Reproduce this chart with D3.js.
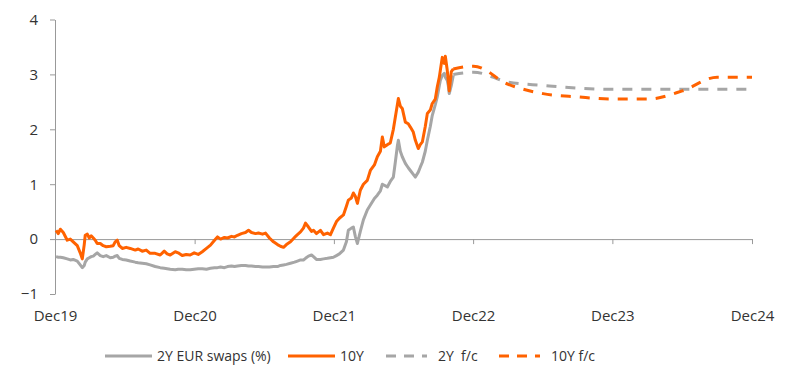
<!DOCTYPE html>
<html>
<head>
<meta charset="utf-8">
<script src="https://cdn.jsdelivr.net/npm/d3@7"></script>
<style>
  body { margin: 0; background: #fff; }
  svg text { font-family: "Open Sans", "DejaVu Sans", sans-serif; fill: #333; }
</style>
</head>
<body>
<svg id="chart" width="800" height="378"></svg>
<script>
// history, dates as decimal years
const histYears = [2019.922, 2019.938, 2019.953, 2019.974, 2020.003, 2020.025, 2020.046, 2020.075, 2020.096, 2020.111,
  2020.125, 2020.132, 2020.147, 2020.161, 2020.175, 2020.190, 2020.204, 2020.218, 2020.240, 2020.261,
  2020.283, 2020.312, 2020.333, 2020.347, 2020.362, 2020.376, 2020.398, 2020.426, 2020.455, 2020.491,
  2020.512, 2020.541, 2020.570, 2020.598, 2020.634, 2020.670, 2020.699, 2020.720, 2020.742, 2020.778,
  2020.799, 2020.828, 2020.857, 2020.885, 2020.914, 2020.943, 2020.972, 2021.000, 2021.029, 2021.058,
  2021.079, 2021.101, 2021.129, 2021.151, 2021.180, 2021.201, 2021.223, 2021.251, 2021.280, 2021.302,
  2021.323, 2021.352, 2021.373, 2021.402, 2021.424, 2021.452, 2021.481, 2021.510, 2021.531, 2021.553,
  2021.574, 2021.603, 2021.632, 2021.653, 2021.675, 2021.696, 2021.711, 2021.732, 2021.754, 2021.768,
  2021.789, 2021.818, 2021.840, 2021.868, 2021.890, 2021.911, 2021.933, 2021.954, 2021.983, 2022.005,
  2022.019, 2022.041, 2022.055, 2022.069, 2022.084, 2022.105, 2022.127, 2022.155, 2022.177, 2022.206,
  2022.227, 2022.249, 2022.263, 2022.277, 2022.299, 2022.320, 2022.342, 2022.356, 2022.371, 2022.378,
  2022.392, 2022.406, 2022.428, 2022.449, 2022.464, 2022.485, 2022.500, 2022.521, 2022.535, 2022.550,
  2022.571, 2022.586, 2022.607, 2022.621, 2022.643, 2022.657, 2022.672, 2022.679, 2022.693, 2022.708,
  2022.715, 2022.729, 2022.736, 2022.743, 2022.758, 2022.772];

const swap2y = [-0.32, -0.33, -0.33, -0.34, -0.36, -0.38, -0.37, -0.40, -0.47, -0.52,
  -0.48, -0.42, -0.36, -0.34, -0.32, -0.31, -0.28, -0.25, -0.30, -0.32,
  -0.30, -0.34, -0.33, -0.31, -0.30, -0.35, -0.37, -0.38, -0.40, -0.42,
  -0.43, -0.44, -0.45, -0.47, -0.50, -0.52, -0.53, -0.54, -0.55, -0.56,
  -0.55, -0.55, -0.56, -0.56, -0.55, -0.54, -0.54, -0.55, -0.53, -0.52,
  -0.52, -0.51, -0.52, -0.50, -0.49, -0.50, -0.49, -0.48, -0.48, -0.49,
  -0.49, -0.50, -0.50, -0.51, -0.51, -0.51, -0.50, -0.50, -0.48, -0.47,
  -0.46, -0.44, -0.42, -0.40, -0.38, -0.38, -0.35, -0.31, -0.29, -0.32,
  -0.37, -0.37, -0.36, -0.35, -0.34, -0.33, -0.30, -0.27, -0.20, -0.05,
  0.16, 0.20, 0.22, 0.05, -0.08, 0.14, 0.35, 0.53, 0.62, 0.74,
  0.80, 0.88, 1.00, 0.98, 0.95, 1.05, 1.13, 1.40, 1.70, 1.80,
  1.60, 1.50, 1.38, 1.30, 1.25, 1.18, 1.13, 1.22, 1.31, 1.40,
  1.60, 1.80, 2.05, 2.25, 2.45, 2.59, 2.80, 2.89, 2.98, 3.02,
  2.95, 2.89, 2.80, 2.65, 2.80, 2.98];

const swap10y = [0.16, 0.10, 0.18, 0.12, -0.02, 0.00, -0.05, -0.12, -0.25, -0.36,
  -0.10, 0.07, 0.09, 0.02, 0.06, 0.02, -0.02, -0.08, -0.08, -0.12,
  -0.14, -0.13, -0.12, -0.05, -0.02, -0.12, -0.17, -0.15, -0.17, -0.20,
  -0.18, -0.22, -0.20, -0.26, -0.26, -0.29, -0.22, -0.27, -0.29, -0.23,
  -0.25, -0.30, -0.28, -0.29, -0.25, -0.28, -0.23, -0.17, -0.11, -0.02,
  0.04, 0.00, 0.03, 0.02, 0.05, 0.04, 0.07, 0.10, 0.12, 0.16,
  0.12, 0.10, 0.11, 0.09, 0.11, 0.02, -0.05, -0.10, -0.13, -0.15,
  -0.10, -0.05, 0.03, 0.08, 0.13, 0.20, 0.29, 0.22, 0.14, 0.16,
  0.10, 0.16, 0.08, 0.11, 0.08, 0.20, 0.32, 0.38, 0.44, 0.60,
  0.71, 0.75, 0.84, 0.78, 0.65, 0.89, 1.00, 1.07, 1.25, 1.35,
  1.50, 1.60, 1.86, 1.68, 1.72, 1.75, 2.00, 2.22, 2.45, 2.56,
  2.42, 2.38, 2.13, 2.10, 2.04, 1.95, 1.80, 1.65, 1.72, 1.77,
  2.05, 2.29, 2.35, 2.47, 2.55, 2.77, 2.95, 3.07, 3.31, 3.20,
  3.33, 3.07, 2.89, 2.70, 3.05, 3.10];

// forecasts, quarterly
const fcYears = [2022.772, 2022.917, 2023.167, 2023.417, 2023.667, 2023.917, 2024.167, 2024.417, 2024.667, 2024.917];
const fc2y = [3.00, 3.04, 2.86, 2.80, 2.75, 2.73, 2.73, 2.73, 2.73, 2.73];
const fc10y = [3.10, 3.15, 2.82, 2.65, 2.59, 2.55, 2.55, 2.70, 2.95, 2.95];

const tickYears = [2019, 2020, 2021, 2022, 2023, 2024];
const yTicks = [-1, 0, 1, 2, 3, 4];
const legendItems = [
  { label: "2Y EUR swaps (%)", color: "#a6a6a6", dash: null },
  { label: "10Y", color: "#ff6200", dash: null },
  { label: "2Y  f/c", color: "#a6a6a6", dash: "10,8" },
  { label: "10Y f/c", color: "#ff6200", dash: "10,8" }
];

function fromYear(v) {
  const yr = Math.floor(v);
  const start = new Date(yr, 0, 1).getTime();
  return new Date(start + (v - yr) * 365.25 * 864e5);
}

const svg = d3.select("#chart");

const x = d3.scaleTime()
  .domain([new Date(2019, 11, 1), new Date(2024, 11, 1)])
  .range([55, 752]);
const y = d3.scaleLinear().domain([-1, 4]).range([294, 19.5]);

const tickDates = tickYears.map(yr => new Date(yr, 11, 1));

// y axis
const yAxis = svg.append("g")
  .attr("transform", "translate(55,0)")
  .call(d3.axisLeft(y).tickValues(yTicks).tickSize(5).tickSizeOuter(0).tickPadding(12).tickFormat(d3.format("d")));
yAxis.selectAll("path, line").attr("stroke", "#999");
yAxis.selectAll("text").attr("font-size", "15px").attr("fill", "#333");

// zero line with tick marks
const zeroAxis = svg.append("g")
  .attr("transform", `translate(0,${y(0)})`)
  .call(d3.axisBottom(x).tickValues(tickDates).tickSize(5).tickSizeOuter(0).tickFormat(""));
zeroAxis.selectAll("path, line").attr("stroke", "#999");

// date labels at bottom
const labelAxis = svg.append("g")
  .attr("transform", `translate(0,${y(-1)})`)
  .call(d3.axisBottom(x).tickValues(tickDates).tickSize(0).tickPadding(16).tickFormat(d3.timeFormat("%b%y")));
labelAxis.select(".domain").remove();
labelAxis.selectAll("text").attr("font-size", "15px").attr("fill", "#333");

const hist = histYears.map((t, i) => ({ date: fromYear(t), a: swap2y[i], b: swap10y[i] }));
const fc = fcYears.map((t, i) => ({ date: fromYear(t), a: fc2y[i], b: fc10y[i] }));

const lineA = d3.line().x(d => x(d.date)).y(d => y(d.a));
const lineB = d3.line().x(d => x(d.date)).y(d => y(d.b));
const fcA = d3.line().curve(d3.curveMonotoneX).x(d => x(d.date)).y(d => y(d.a));
const fcB = d3.line().curve(d3.curveMonotoneX).x(d => x(d.date)).y(d => y(d.b));

svg.append("path").datum(fc).attr("d", fcA)
  .attr("fill", "none").attr("stroke", "#a6a6a6").attr("stroke-width", 3).attr("stroke-dasharray", "10,9");
svg.append("path").datum(fc).attr("d", fcB)
  .attr("fill", "none").attr("stroke", "#ff6200").attr("stroke-width", 3).attr("stroke-dasharray", "10,9");

svg.append("path").datum(hist).attr("d", lineA)
  .attr("fill", "none").attr("stroke", "#a6a6a6").attr("stroke-width", 3).attr("stroke-linejoin", "round");
svg.append("path").datum(hist).attr("d", lineB)
  .attr("fill", "none").attr("stroke", "#ff6200").attr("stroke-width", 3).attr("stroke-linejoin", "round");

// legend
const legendX = [105, 288, 386, 499];
const legend = svg.append("g").attr("transform", "translate(0,356)");
legendItems.forEach((item, i) => {
  const g = legend.append("g").attr("transform", `translate(${legendX[i]},0)`);
  const len = item.dash ? 41 : 47;
  g.append("line")
    .attr("x1", 0).attr("x2", len).attr("y1", 0).attr("y2", 0)
    .attr("stroke", item.color).attr("stroke-width", 3)
    .attr("stroke-dasharray", item.dash);
  g.append("text")
    .attr("x", len + (item.dash ? 11 : 5)).attr("y", 0).attr("dy", "0.35em")
    .attr("font-size", "14px").attr("fill", "#333")
    .attr("xml:space", "preserve")
    .text(item.label);
});
</script>
</body>
</html>
